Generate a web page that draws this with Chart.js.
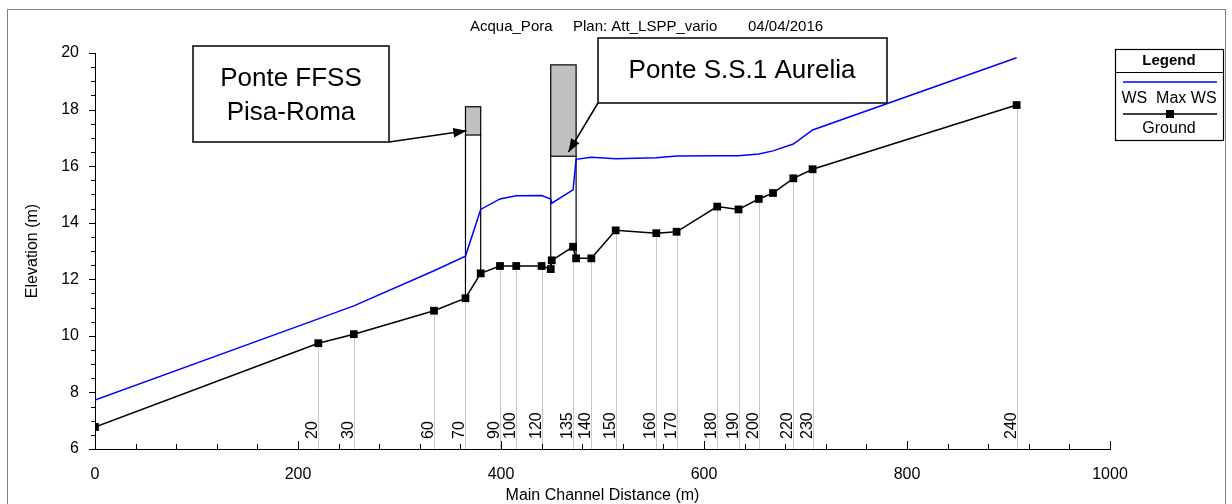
<!DOCTYPE html>
<html>
<head>
<meta charset="utf-8">
<script src="https://cdn.jsdelivr.net/npm/chart.js@4.4.1/dist/chart.umd.min.js"></script>
<style>
  body { margin: 0; background: #fff; }
  #wrap { width: 1232px; height: 504px; }
</style>
</head>
<body>
<div id="wrap"><canvas id="myChart" width="1232" height="504"></canvas></div>
<script>
// river stations (m) along main channel
const stations = [0, 220, 255, 334, 365, 380, 399, 415, 440, 449, 450, 471, 474, 489, 513, 553, 573, 613, 634, 654, 668, 688, 707, 908];
const wsMax = [7.73, 10.60, 11.06, 12.30, 12.82, 14.47, 14.84, 14.95, 14.96, 14.84, 14.69, 15.16, 16.24, 16.31, 16.26, 16.30, 16.36, 16.37, 16.37, 16.43, 16.54, 16.78, 17.28, 19.83];
const ground = [6.78, 9.74, 10.06, 10.89, 11.33, 12.21, 12.47, 12.47, 12.47, 12.36, 12.67, 13.15, 12.74, 12.74, 13.73, 13.63, 13.68, 14.57, 14.47, 14.84, 15.05, 15.57, 15.89, 18.16];
const sectionLabels = [null, '20', '30', '60', '70', null, '90', '100', '120', null, null, '135', null, '140', '150', '160', '170', '180', '190', '200', null, '220', '230', '240'];

// bridges: upstream / downstream face, low chord, high chord
const bridgeNames = [['Ponte FFSS', 'Pisa-Roma'], ['Ponte S.S.1 Aurelia']];
const bridgeFaces = [[365, 380], [449, 474]];
const lowChord = [17.1, 16.35];
const highChord = [18.1, 19.58];

const xTicks = [0, 200, 400, 600, 800, 1000];
const yTicks = [6, 8, 10, 12, 14, 16, 18, 20];

const FONT = '"Liberation Sans", Arial, sans-serif';

function pts(vals) {
  return stations.map((s, i) => ({ x: s, y: vals[i] }));
}

function arrow(c, x1, y1, x2, y2) {
  c.beginPath();
  c.moveTo(x1, y1);
  c.lineTo(x2, y2);
  c.stroke();
  const a = Math.atan2(y2 - y1, x2 - x1);
  c.beginPath();
  c.moveTo(x2, y2);
  c.lineTo(x2 - 14 * Math.cos(a - 0.35), y2 - 14 * Math.sin(a - 0.35));
  c.lineTo(x2 - 14 * Math.cos(a + 0.35), y2 - 14 * Math.sin(a + 0.35));
  c.closePath();
  c.fill();
}

const decor = {
  id: 'decor',
  beforeDraw(chart) {
    const c = chart.ctx;
    c.save();
    c.fillStyle = '#fff';
    c.fillRect(0, 0, chart.width, chart.height);
    c.strokeStyle = '#808080';
    c.lineWidth = 1;
    c.strokeRect(7.5, 9.5, 1218, 500);
    c.restore();
  },
  beforeDatasetsDraw(chart) {
    const c = chart.ctx, xs = chart.scales.x, ys = chart.scales.y;
    const bottom = chart.chartArea.bottom;
    c.save();
    // cross section lines + ids
    c.strokeStyle = '#c8c8c8';
    c.lineWidth = 1;
    sectionLabels.forEach((lab, i) => {
      if (!lab) return;
      const px = Math.round(xs.getPixelForValue(stations[i])) + 0.5;
      c.beginPath();
      c.moveTo(px, ys.getPixelForValue(ground[i]));
      c.lineTo(px, bottom);
      c.stroke();
    });
    c.fillStyle = '#000';
    c.font = '16px ' + FONT;
    c.textAlign = 'left';
    c.textBaseline = 'alphabetic';
    sectionLabels.forEach((lab, i) => {
      if (!lab) return;
      const px = xs.getPixelForValue(stations[i]);
      c.save();
      c.translate(px - 1, bottom - 10);
      c.rotate(-Math.PI / 2);
      c.fillText(lab, 0, 0);
      c.restore();
    });
    // bridges
    bridgeFaces.forEach((f, b) => {
      const xl = xs.getPixelForValue(f[0]), xr = xs.getPixelForValue(f[1]);
      const yl = ys.getPixelForValue(lowChord[b]), yh = ys.getPixelForValue(highChord[b]);
      c.fillStyle = '#c0c0c0';
      c.fillRect(xl, yh, xr - xl, yl - yh);
      c.strokeStyle = '#000';
      c.lineWidth = 1.2;
      c.strokeRect(xl, yh, xr - xl, yl - yh);
      const gl = ground[stations.indexOf(f[0])], gr = ground[stations.indexOf(f[1])];
      c.beginPath();
      c.moveTo(xl, ys.getPixelForValue(gl));
      c.lineTo(xl, yl);
      c.moveTo(xr, ys.getPixelForValue(gr));
      c.lineTo(xr, yl);
      c.stroke();
    });
    c.restore();
  },
  afterDraw(chart) {
    const c = chart.ctx, xs = chart.scales.x, ys = chart.scales.y;
    const a = chart.chartArea;
    c.save();
    c.strokeStyle = '#000';
    c.lineWidth = 1;
    // minor / major ticks
    for (let v = 0; v <= 1000; v += 40) {
      const px = Math.round(xs.getPixelForValue(v)) + 0.5;
      c.beginPath();
      c.moveTo(px, a.bottom);
      c.lineTo(px, a.bottom - (v % 200 === 0 ? 8 : 5));
      c.stroke();
    }
    for (let v = 6; v <= 20; v += 0.5) {
      const py = Math.round(ys.getPixelForValue(v)) + 0.5;
      c.beginPath();
      c.moveTo(a.left, py);
      c.lineTo(a.left - (v % 2 === 0 ? 6 : 4), py);
      c.stroke();
    }
    // title
    c.fillStyle = '#000';
    c.font = '15px ' + FONT;
    c.textBaseline = 'middle';
    c.textAlign = 'left';
    c.fillText('Acqua_Pora', 470, 27);
    c.fillText('Plan: Att_LSPP_vario', 573, 27);
    c.fillText('04/04/2016', 748, 27);
    // axis titles
    c.font = '16px ' + FONT;
    c.textAlign = 'center';
    c.fillText('Main Channel Distance (m)', (a.left + a.right) / 2, 496);
    c.save();
    c.translate(33, (a.top + a.bottom) / 2);
    c.rotate(-Math.PI / 2);
    c.fillText('Elevation (m)', 0, 0);
    c.restore();
    // legend
    c.lineWidth = 1.2;
    c.strokeRect(1115.5, 49.5, 108, 91);
    c.beginPath();
    c.moveTo(1115, 72.5);
    c.lineTo(1223, 72.5);
    c.stroke();
    c.font = 'bold 15px ' + FONT;
    c.fillText('Legend', 1169, 61);
    c.strokeStyle = '#0000ff';
    c.lineWidth = 1.5;
    c.beginPath();
    c.moveTo(1123, 82);
    c.lineTo(1217, 82);
    c.stroke();
    c.font = '16px ' + FONT;
    c.fillText('WS  Max WS', 1169, 99);
    c.strokeStyle = '#000';
    c.beginPath();
    c.moveTo(1123, 114);
    c.lineTo(1217, 114);
    c.stroke();
    c.fillRect(1166, 110, 8, 8);
    c.fillText('Ground', 1169, 129);
    // bridge callouts
    c.lineWidth = 1.5;
    c.fillStyle = '#fff';
    c.fillRect(193, 46, 196, 96);
    c.strokeRect(193, 46, 196, 96);
    c.fillRect(598, 38, 289, 65);
    c.strokeRect(598, 38, 289, 65);
    c.fillStyle = '#000';
    c.font = '26px ' + FONT;
    c.fillText(bridgeNames[0][0], 291, 79);
    c.fillText(bridgeNames[0][1], 291, 113);
    c.fillText(bridgeNames[1][0], 742, 71);
    const t1x = xs.getPixelForValue(bridgeFaces[0][0]) + 1, t1y = ys.getPixelForValue(lowChord[0] + 0.15);
    arrow(c, 389, 142, t1x, t1y);
    const b2 = bridgeFaces[1];
    const t2x = xs.getPixelForValue(b2[0] + 0.7 * (b2[1] - b2[0])), t2y = ys.getPixelForValue(lowChord[1] + 0.15);
    arrow(c, 598, 103, t2x, t2y);
    c.restore();
  }
};

const ctx = document.getElementById('myChart');
new Chart(ctx, {
  type: 'line',
  data: {
    datasets: [{
      label: 'WS  Max WS',
      data: pts(wsMax),
      borderColor: '#0000ff',
      borderWidth: 1.5,
      pointRadius: 0,
      tension: 0
    }, {
      label: 'Ground',
      data: pts(ground),
      borderColor: '#000',
      backgroundColor: '#000',
      borderWidth: 1.5,
      pointStyle: 'rect',
      pointRadius: 5.5,
      pointBorderWidth: 0,
      tension: 0
    }]
  },
  options: {
    responsive: false,
    animation: false,
    layout: { padding: { left: 0, top: 53, right: 122, bottom: 0 } },
    plugins: { legend: { display: false }, tooltip: { enabled: false } },
    scales: {
      x: {
        type: 'linear',
        min: 0, max: 1000,
        afterFit: s => { s.height = 55; },
        afterBuildTicks: s => { s.ticks = xTicks.map(v => ({ value: v })); },
        grid: { display: false },
        border: { display: true, color: '#000', width: 1 },
        ticks: { color: '#000', padding: 8, maxRotation: 0, callback: v => String(v), font: { family: FONT, size: 16 } }
      },
      y: {
        min: 6, max: 20,
        afterFit: s => { s.width = 95; },
        afterBuildTicks: s => { s.ticks = yTicks.map(v => ({ value: v })); },
        grid: { display: false },
        border: { display: true, color: '#000', width: 1 },
        ticks: { color: '#000', padding: 8, font: { family: FONT, size: 16 } }
      }
    }
  },
  plugins: [decor]
});
</script>
</body>
</html>
